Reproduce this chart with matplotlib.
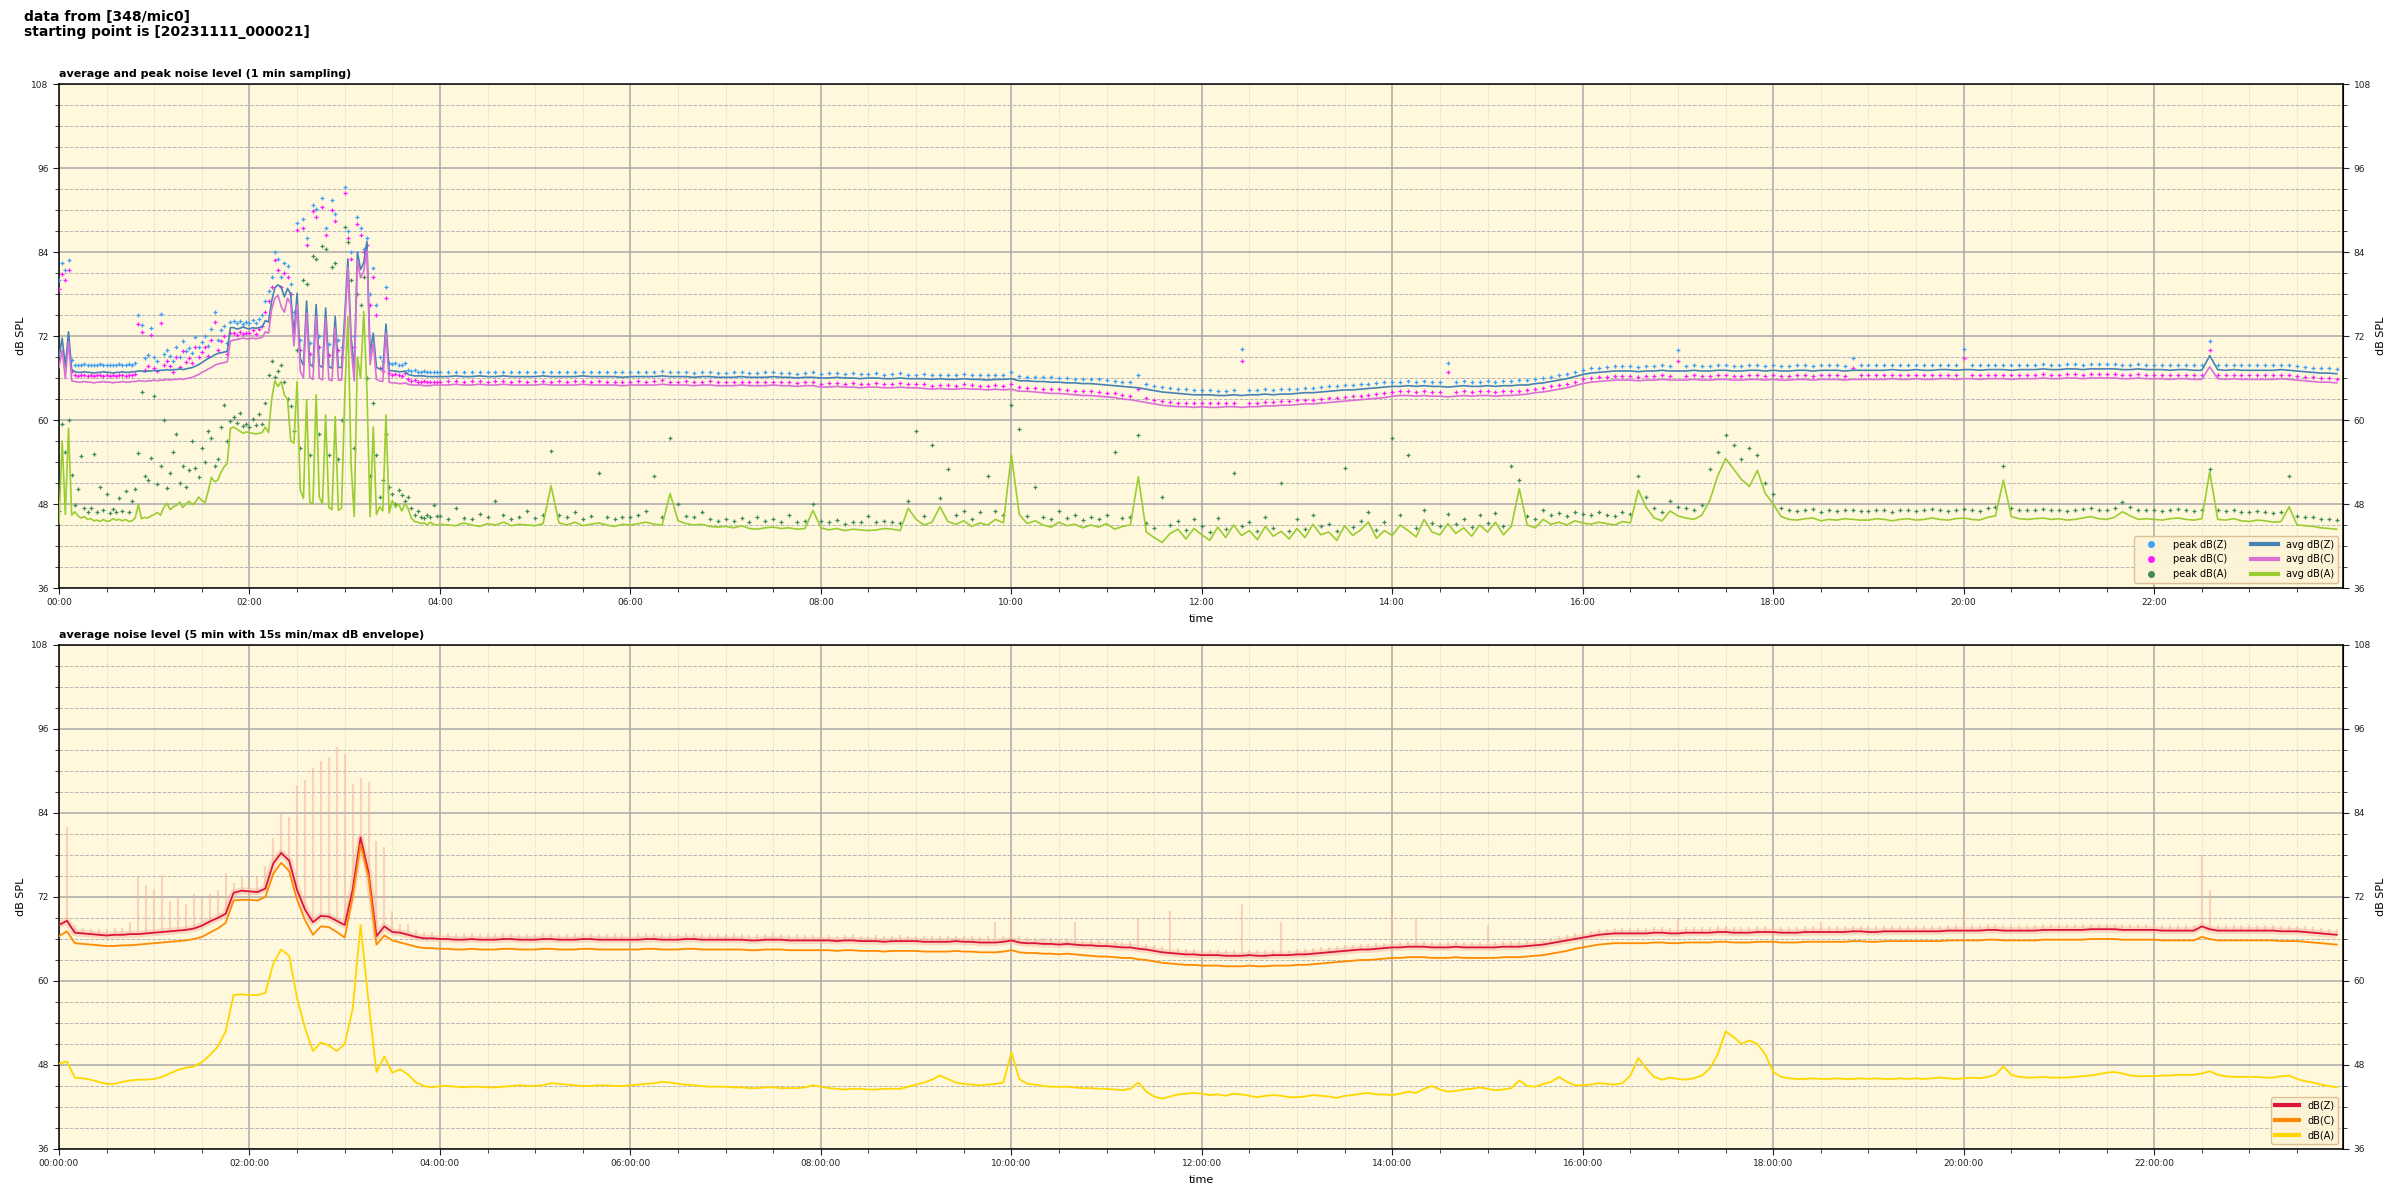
import datetime as dt
import matplotlib
matplotlib.use("Agg")
import matplotlib.pyplot as plt
import matplotlib.dates as mdates
from matplotlib.ticker import MultipleLocator
from matplotlib.lines import Line2D

# ---------------- data ----------------
START = dt.datetime(2023, 11, 11, 0, 0, 0)
END = dt.datetime(2023, 11, 11, 23, 59, 0)

# sample times (minutes after start): top panel 2-min for first 4 h, then 5-min
top_minutes = list(range(0, 240, 2)) + list(range(240, 1440, 5))
bottom_minutes = list(range(0, 1440, 5))

top_avg_z = [
    69.0, 71.7, 67.6, 72.6, 67.2, 66.9, 66.8, 66.8, 66.9, 66.8,
    66.8, 66.7, 66.8, 66.8, 66.9, 66.8, 66.8, 66.7, 66.8, 66.8,
    66.9, 66.8, 66.8, 66.9, 66.9, 67.0, 67.0, 66.9, 67.0, 67.0,
    67.1, 67.0, 67.1, 67.1, 67.2, 67.1, 67.2, 67.2, 67.3, 67.2,
    67.3, 67.4, 67.5, 67.7, 67.9, 68.2, 68.5, 68.8, 69.0, 69.3,
    69.5, 69.6, 69.7, 69.8, 73.2, 73.2, 73.0, 73.1, 73.3, 73.1,
    73.0, 73.2, 73.1, 73.2, 73.3, 74.2, 74.0, 77.0, 78.9, 79.3,
    79.0, 77.6, 78.8, 78.0, 72.0, 78.1, 68.8, 67.8, 77.0, 68.0,
    67.6, 76.5, 67.8, 67.5, 76.0, 67.6, 67.4, 74.8, 67.5, 67.5,
    74.8, 83.0, 72.0, 67.2, 84.0, 81.5, 82.5, 85.5, 69.5, 72.4,
    67.5, 67.3, 67.2, 73.7, 67.1, 67.0, 67.0, 66.9, 66.9, 67.0,
    66.5, 66.4, 66.3, 66.3, 66.3, 66.3, 66.2, 66.2, 66.2, 66.2,
    66.2, 66.2, 66.3, 66.2, 66.2, 66.3, 66.2, 66.2, 66.3, 66.2, 66.2, 66.2,
    66.2, 66.3, 66.2, 66.2, 66.2, 66.2, 66.3, 66.2, 66.2, 66.2, 66.2, 66.1,
    66.2, 66.2, 66.2, 66.2, 66.3, 66.2, 66.2, 66.2, 66.1, 66.2, 66.2, 66.1,
    66.1, 66.1, 66.2, 66.1, 66.1, 66.1, 66.2, 66.1, 66.1, 66.0, 66.1, 66.1,
    66.0, 66.0, 66.1, 66.0, 66.0, 65.9, 66.0, 66.0, 65.9, 65.9, 66.0, 65.9,
    65.9, 65.9, 65.8, 65.9, 65.8, 65.8, 65.9, 65.8, 65.8, 65.7, 65.8, 65.8,
    65.9, 65.6, 65.6, 65.5, 65.5, 65.4, 65.4, 65.3, 65.3, 65.2, 65.2, 65.1,
    65.0, 64.9, 64.8, 64.7, 64.6, 64.4, 64.2, 64.0, 63.9, 63.8, 63.7, 63.6,
    63.6, 63.6, 63.5, 63.5, 63.6, 63.5, 63.6, 63.6, 63.7, 63.6, 63.7, 63.7,
    63.8, 63.9, 63.9, 64.0, 64.1, 64.2, 64.3, 64.3, 64.4, 64.5, 64.6, 64.7,
    64.8, 64.8, 64.9, 64.8, 64.9, 64.8, 64.8, 64.7, 64.8, 64.9, 64.8, 64.8,
    64.9, 64.8, 64.9, 64.9, 65.0, 65.0, 65.2, 65.3, 65.5, 65.7, 65.9, 66.2,
    66.5, 66.7, 66.8, 66.9, 67.0, 67.0, 67.0, 66.9, 67.0, 67.0, 67.1, 67.0,
    67.0, 67.0, 67.1, 67.0, 67.0, 67.1, 67.1, 67.0, 67.0, 67.1, 67.1, 67.0,
    67.1, 67.0, 67.0, 67.1, 67.1, 67.0, 67.1, 67.1, 67.1, 67.0, 67.1, 67.1,
    67.1, 67.1, 67.1, 67.2, 67.1, 67.1, 67.2, 67.1, 67.1, 67.2, 67.2, 67.1,
    67.2, 67.2, 67.1, 67.2, 67.2, 67.2, 67.1, 67.2, 67.2, 67.2, 67.3, 67.2,
    67.2, 67.3, 67.3, 67.2, 67.3, 67.3, 67.3, 67.3, 67.2, 67.2, 67.3, 67.2,
    67.2, 67.2, 67.1, 67.2, 67.2, 67.1, 67.1, 69.2, 67.2, 67.1, 67.2, 67.1,
    67.1, 67.1, 67.1, 67.1, 67.2, 67.1, 67.0, 66.9, 66.8, 66.7, 66.7, 66.6,
]

top_avg_c = [
    67.5, 70.0, 65.9, 71.2, 65.6, 65.5, 65.4, 65.4, 65.5, 65.4,
    65.4, 65.3, 65.4, 65.4, 65.5, 65.4, 65.4, 65.3, 65.4, 65.4,
    65.5, 65.4, 65.4, 65.5, 65.5, 65.6, 65.6, 65.5, 65.6, 65.6,
    65.7, 65.6, 65.7, 65.7, 65.8, 65.7, 65.8, 65.8, 65.9, 65.8,
    65.9, 66.0, 66.1, 66.3, 66.5, 66.8, 67.0, 67.3, 67.5, 67.8,
    68.0, 68.1, 68.2, 68.3, 71.3, 71.4, 71.5, 71.6, 71.7, 71.6,
    71.6, 71.7, 71.6, 71.7, 71.8, 72.6, 72.4, 75.8, 77.4, 77.8,
    76.2, 75.4, 77.4, 76.6, 70.6, 76.4, 67.0, 66.0, 75.3, 66.1,
    65.8, 74.8, 66.0, 65.7, 74.5, 65.8, 65.6, 73.2, 65.7, 65.7,
    73.2, 81.8, 70.5, 65.6, 82.8, 80.3, 81.3, 84.3, 67.9, 71.0,
    65.8, 65.6, 65.5, 72.4, 65.4, 65.3, 65.3, 65.2, 65.2, 65.3,
    65.1, 65.0, 65.0, 65.0, 65.0, 64.9, 64.9, 64.9, 65.0, 65.0,
    65.0, 65.0, 65.1, 65.0, 65.0, 65.1, 65.0, 65.0, 65.1, 65.0, 65.0, 65.0,
    65.0, 65.1, 65.0, 65.0, 65.0, 65.0, 65.1, 65.0, 65.0, 65.0, 65.0, 64.9,
    65.0, 65.0, 65.0, 65.0, 65.1, 65.0, 65.0, 65.0, 64.9, 65.0, 65.0, 64.9,
    64.9, 64.9, 65.0, 64.9, 64.9, 64.9, 65.0, 64.9, 64.9, 64.8, 64.9, 64.9,
    64.7, 64.7, 64.8, 64.7, 64.7, 64.6, 64.7, 64.7, 64.6, 64.6, 64.7, 64.6,
    64.6, 64.5, 64.4, 64.5, 64.4, 64.4, 64.5, 64.4, 64.4, 64.3, 64.4, 64.3,
    64.4, 64.1, 64.1, 64.0, 63.9, 63.8, 63.8, 63.7, 63.6, 63.5, 63.5, 63.4,
    63.3, 63.2, 63.0, 62.9, 62.7, 62.5, 62.3, 62.1, 62.0, 61.9, 61.9, 61.8,
    61.9, 61.8, 61.8, 61.9, 61.9, 61.8, 61.9, 61.9, 62.0, 62.0, 62.1, 62.1,
    62.2, 62.3, 62.3, 62.4, 62.5, 62.6, 62.7, 62.8, 62.9, 63.0, 63.1, 63.2,
    63.4, 63.5, 63.5, 63.4, 63.5, 63.4, 63.4, 63.3, 63.4, 63.5, 63.4, 63.5,
    63.5, 63.4, 63.5, 63.5, 63.6, 63.7, 63.9, 64.0, 64.2, 64.4, 64.6, 64.9,
    65.2, 65.4, 65.5, 65.6, 65.7, 65.7, 65.7, 65.6, 65.7, 65.7, 65.8, 65.7,
    65.7, 65.7, 65.8, 65.7, 65.7, 65.8, 65.8, 65.7, 65.7, 65.8, 65.8, 65.7,
    65.8, 65.7, 65.7, 65.8, 65.8, 65.7, 65.8, 65.8, 65.8, 65.7, 65.8, 65.8,
    65.8, 65.8, 65.8, 65.9, 65.8, 65.8, 65.9, 65.8, 65.8, 65.9, 65.9, 65.8,
    65.9, 65.9, 65.8, 65.9, 65.9, 65.9, 65.8, 65.9, 65.9, 65.9, 66.0, 65.9,
    65.9, 66.0, 66.0, 65.9, 66.0, 66.0, 66.0, 66.0, 65.9, 65.9, 66.0, 65.9,
    65.9, 65.9, 65.8, 65.9, 65.9, 65.8, 65.8, 67.6, 65.9, 65.8, 65.9, 65.8,
    65.8, 65.8, 65.8, 65.8, 65.9, 65.8, 65.7, 65.6, 65.5, 65.4, 65.4, 65.3,
]

top_avg_a = [
    45.2, 57.0, 46.5, 58.8, 46.4, 46.9, 46.3, 46.0, 46.2, 45.8,
    45.9, 45.6, 45.7, 45.5, 45.8, 45.5, 45.6, 45.9, 45.7, 45.8,
    45.6, 45.8, 45.5, 45.6, 46.0, 47.9, 45.9, 46.1, 46.0, 46.3,
    46.5, 46.8, 46.4, 47.5, 48.1, 47.2, 47.6, 47.8, 48.3, 47.5,
    48.0, 48.4, 47.9, 48.3, 49.0, 48.5, 48.2, 49.8, 51.8, 51.2,
    51.4, 52.5, 53.3, 53.8, 58.8, 59.0, 58.7, 58.4, 58.1, 58.3,
    58.2, 58.1, 58.0, 58.1, 58.2, 59.0, 58.2, 63.0, 65.6, 64.8,
    65.5, 63.6, 62.9, 57.0, 56.7, 65.5, 50.0, 48.8, 62.9, 48.3,
    48.0, 63.6, 49.0, 48.0, 60.7, 47.5, 47.2, 60.5, 47.1, 47.4,
    63.3, 74.8, 53.8, 46.2, 69.0, 66.0, 75.5, 64.3, 46.2, 59.0,
    46.5, 47.6, 47.0, 60.7, 46.7, 48.5, 47.5, 48.0, 47.0, 48.1,
    47.3, 46.0, 45.5, 45.4, 45.2, 45.3, 45.0, 45.4, 45.1, 45.0,
    45.1, 45.0, 44.9, 45.3, 45.0, 44.8, 45.2, 45.0, 45.4, 44.9, 45.1, 45.0,
    44.9, 45.2, 50.6, 45.3, 45.0, 45.4, 44.9, 45.1, 45.3, 45.0, 44.8, 45.1,
    45.0, 45.2, 45.4, 45.1, 45.0, 49.5, 45.6, 45.2, 45.0, 45.1, 44.8, 44.7,
    44.8, 44.6, 44.9, 44.5, 44.4, 44.6, 44.7, 44.5, 44.6, 44.4, 44.5, 47.1,
    44.6, 44.3, 44.5, 44.2, 44.4, 44.3, 44.2, 44.3, 44.5, 44.4, 44.2, 47.4,
    45.8, 45.0, 45.4, 47.6, 45.5, 45.1, 45.6, 44.8, 45.3, 45.0, 45.8, 45.3,
    55.0, 46.5, 45.2, 45.6, 45.0, 44.7, 45.4, 44.9, 45.1, 44.6, 45.0, 44.7,
    45.2, 44.4, 44.8, 45.0, 51.9, 44.0, 43.2, 42.5, 43.8, 44.4, 43.0, 44.5,
    43.6, 42.8, 44.7, 43.2, 45.0, 43.5, 44.2, 42.9, 44.8, 43.4, 44.1, 43.0,
    44.5, 43.2, 45.1, 43.6, 44.0, 42.8, 44.9, 43.5, 44.3, 45.4, 43.1, 44.2,
    43.5, 45.0, 44.2, 43.3, 45.8, 44.0, 43.6, 45.2, 43.8, 44.6, 43.4, 45.0,
    44.0, 45.4, 43.6, 44.8, 50.2, 45.0, 44.6, 45.8, 45.1, 45.4, 45.0, 45.6,
    45.3, 45.1, 45.4, 45.2, 45.0, 45.5, 45.3, 50.0, 47.5, 46.0, 45.6, 47.0,
    46.3, 46.0, 45.8, 46.4, 48.5, 52.0, 54.5, 53.0, 51.5, 50.5, 52.8, 49.5,
    48.0, 46.2, 45.8, 45.7, 45.9, 46.0, 45.6, 45.8, 45.7, 45.9, 45.8, 45.7,
    45.7, 45.9, 45.8, 45.6, 45.8, 45.9, 45.7, 45.8, 46.0, 45.8, 45.7, 45.9,
    46.0, 45.8, 45.7, 46.1, 46.3, 51.4, 46.2, 45.9, 45.8, 45.9, 46.0, 45.8,
    45.9, 45.7, 45.8, 46.0, 46.2, 45.9, 45.8, 46.1, 46.9, 46.3, 45.8, 45.9,
    45.8, 45.7, 45.9, 46.0, 45.8, 45.7, 45.9, 52.6, 45.8, 45.7, 45.9, 45.6,
    45.5, 45.7, 45.6, 45.4, 45.5, 47.6, 45.0, 44.9, 44.8, 44.6, 44.5, 44.4,
]

top_peak_z = [
    80.0, 82.4, 81.5, 82.8, 68.6, 67.9, 67.8, 67.9, 68.0, 67.8,
    67.9, 67.8, 67.9, 68.0, 67.8, 67.9, 67.8, 67.9, 67.8, 68.0,
    67.9, 67.8, 68.0, 67.9, 68.1, 75.0, 73.6, 68.8, 69.3, 73.1,
    69.0, 68.5, 75.2, 69.4, 70.0, 69.2, 68.4, 70.5, 69.0, 71.3,
    69.8, 70.3, 69.6, 71.9, 70.5, 71.2, 72.0, 70.6, 73.0, 75.5,
    71.5, 72.8, 73.5, 71.0, 74.0, 74.2, 73.8, 74.1, 73.7, 74.0,
    73.9, 74.3, 73.8, 74.5, 75.0, 77.0, 78.5, 80.5, 84.0, 83.0,
    80.5, 82.5, 82.0, 79.5, 75.5, 88.1, 71.5, 88.7, 86.0, 71.0,
    90.7, 90.2, 72.0, 91.7, 87.5, 70.8, 91.5, 89.5, 71.5, 70.5,
    93.3, 87.0, 84.0, 72.0, 89.0, 87.5, 84.5, 86.0, 78.0, 81.7,
    76.5, 69.0, 68.5, 79.0, 68.2, 68.0, 68.1, 67.9, 67.8, 68.2,
    67.2, 67.0, 67.1, 66.9, 66.9, 67.0, 66.8, 66.9, 66.8, 66.8,
    66.8, 66.9, 66.9, 66.8, 66.9, 66.9, 66.8, 66.9, 66.9, 66.8, 66.9, 66.8,
    66.9, 66.9, 66.8, 66.9, 66.8, 66.9, 66.9, 66.8, 66.9, 66.8, 66.8, 66.8,
    66.8, 66.9, 66.8, 66.9, 67.0, 66.8, 66.8, 66.9, 66.7, 66.8, 66.9, 66.7,
    66.7, 66.8, 66.8, 66.7, 66.7, 66.8, 66.8, 66.7, 66.7, 66.6, 66.7, 66.8,
    66.6, 66.7, 66.7, 66.6, 66.7, 66.6, 66.6, 66.7, 66.5, 66.6, 66.7, 66.5,
    66.5, 66.6, 66.4, 66.5, 66.5, 66.4, 66.6, 66.5, 66.4, 66.4, 66.5, 66.4,
    66.8, 66.3, 66.2, 66.2, 66.1, 66.1, 66.0, 66.0, 65.9, 65.9, 65.8, 65.8,
    65.7, 65.6, 65.5, 65.4, 66.5, 65.1, 64.9, 64.7, 64.6, 64.5, 64.4, 64.3,
    64.3, 64.3, 64.2, 64.2, 64.3, 70.1, 64.3, 64.3, 64.4, 64.3, 64.4, 64.4,
    64.5, 64.6, 64.6, 64.7, 64.8, 64.9, 65.0, 65.0, 65.1, 65.2, 65.3, 65.4,
    65.5, 65.5, 65.6, 65.5, 65.6, 65.5, 65.5, 68.2, 65.5, 65.6, 65.5, 65.5,
    65.6, 65.5, 65.6, 65.6, 65.7, 65.7, 65.9, 66.0, 66.2, 66.4, 66.6, 66.9,
    67.2, 67.4, 67.5, 67.6, 67.7, 67.7, 67.7, 67.6, 67.7, 67.7, 67.8, 67.7,
    70.0, 67.7, 67.8, 67.7, 67.7, 67.8, 67.8, 67.7, 67.7, 67.8, 67.8, 67.7,
    67.8, 67.7, 67.7, 67.8, 67.8, 67.7, 67.8, 67.8, 67.8, 67.7, 68.9, 67.8,
    67.8, 67.8, 67.8, 67.9, 67.8, 67.8, 67.9, 67.8, 67.8, 67.9, 67.9, 67.8,
    70.1, 67.9, 67.8, 67.9, 67.9, 67.9, 67.8, 67.9, 67.9, 67.9, 68.0, 67.9,
    67.9, 68.0, 68.0, 67.9, 68.0, 68.0, 68.0, 68.0, 67.9, 67.9, 68.0, 67.9,
    67.9, 67.9, 67.8, 67.9, 67.9, 67.8, 67.8, 71.3, 67.9, 67.8, 67.9, 67.8,
    67.8, 67.8, 67.8, 67.8, 67.9, 67.8, 67.7, 67.6, 67.5, 67.4, 67.4, 67.3,
]

top_peak_c = [
    78.7, 80.8, 80.0, 81.5, 67.0, 66.4, 66.3, 66.4, 66.5, 66.3,
    66.4, 66.3, 66.4, 66.5, 66.3, 66.4, 66.3, 66.4, 66.3, 66.5,
    66.4, 66.3, 66.5, 66.4, 66.6, 73.7, 72.6, 67.2, 67.7, 72.1,
    67.5, 67.0, 73.9, 67.9, 68.5, 67.7, 66.9, 69.0, 67.6, 69.8,
    68.3, 68.8, 68.1, 70.4, 69.0, 69.7, 70.5, 69.1, 71.5, 74.0,
    70.0, 71.3, 72.0, 69.5, 72.4, 72.5, 72.2, 72.6, 72.3, 72.5,
    72.4, 72.8, 72.3, 73.0, 73.5, 75.5, 77.0, 79.0, 82.8, 81.5,
    79.0, 81.0, 80.5, 78.0, 74.0, 87.1, 70.0, 87.5, 85.0, 69.5,
    89.8, 89.0, 70.5, 90.5, 86.5, 69.3, 90.0, 88.5, 70.0, 69.0,
    92.5, 86.0, 83.0, 70.5, 88.0, 86.5, 84.0, 85.0, 76.5, 80.5,
    75.0, 67.5, 67.0, 77.5, 66.7, 66.5, 66.6, 66.4, 66.3, 66.7,
    65.8, 65.6, 65.7, 65.5, 65.5, 65.6, 65.4, 65.5, 65.4, 65.4,
    65.5, 65.6, 65.6, 65.5, 65.6, 65.6, 65.5, 65.6, 65.6, 65.5, 65.6, 65.5,
    65.6, 65.6, 65.5, 65.6, 65.5, 65.6, 65.6, 65.5, 65.6, 65.5, 65.5, 65.4,
    65.5, 65.6, 65.5, 65.6, 65.7, 65.5, 65.5, 65.6, 65.4, 65.5, 65.6, 65.4,
    65.4, 65.5, 65.5, 65.4, 65.4, 65.5, 65.5, 65.4, 65.4, 65.3, 65.4, 65.5,
    65.2, 65.3, 65.3, 65.2, 65.3, 65.2, 65.2, 65.3, 65.1, 65.2, 65.3, 65.1,
    65.1, 65.1, 64.9, 65.0, 65.0, 64.9, 65.1, 65.0, 64.9, 64.9, 65.0, 64.8,
    65.2, 64.7, 64.6, 64.6, 64.5, 64.4, 64.4, 64.3, 64.2, 64.1, 64.1, 64.0,
    63.9, 63.8, 63.6, 63.5, 64.5, 63.1, 62.9, 62.7, 62.6, 62.5, 62.5, 62.4,
    62.5, 62.4, 62.4, 62.5, 62.5, 68.5, 62.5, 62.5, 62.6, 62.6, 62.7, 62.7,
    62.8, 62.9, 62.9, 63.0, 63.1, 63.2, 63.3, 63.4, 63.5, 63.6, 63.7, 63.8,
    64.0, 64.1, 64.1, 64.0, 64.1, 64.0, 64.0, 66.8, 64.0, 64.1, 64.0, 64.1,
    64.1, 64.0, 64.1, 64.1, 64.2, 64.3, 64.5, 64.6, 64.8, 65.0, 65.2, 65.5,
    65.8, 66.0, 66.1, 66.2, 66.3, 66.3, 66.3, 66.2, 66.3, 66.3, 66.4, 66.3,
    68.5, 66.3, 66.4, 66.3, 66.3, 66.4, 66.4, 66.3, 66.3, 66.4, 66.4, 66.3,
    66.4, 66.3, 66.3, 66.4, 66.4, 66.3, 66.4, 66.4, 66.4, 66.3, 67.5, 66.4,
    66.4, 66.4, 66.4, 66.5, 66.4, 66.4, 66.5, 66.4, 66.4, 66.5, 66.5, 66.4,
    68.8, 66.5, 66.4, 66.5, 66.5, 66.5, 66.4, 66.5, 66.5, 66.5, 66.6, 66.5,
    66.5, 66.6, 66.6, 66.5, 66.6, 66.6, 66.6, 66.6, 66.5, 66.5, 66.6, 66.5,
    66.5, 66.5, 66.4, 66.5, 66.5, 66.4, 66.4, 70.0, 66.5, 66.4, 66.5, 66.4,
    66.4, 66.4, 66.4, 66.4, 66.5, 66.4, 66.3, 66.2, 66.1, 66.0, 66.0, 65.9,
]

top_peak_a = [
    47.0, 59.5, 55.5, 60.0, 52.1, 47.8, 50.1, 54.9, 47.5, 46.8,
    47.4, 55.1, 46.9, 50.5, 47.2, 49.4, 46.7, 47.3, 46.8, 48.9,
    47.0, 49.9, 46.8, 48.5, 50.2, 55.3, 64.0, 52.0, 51.5, 54.6,
    63.5, 50.9, 53.5, 60.0, 50.3, 52.5, 55.5, 58.0, 51.0, 53.5,
    50.5, 52.8, 57.0, 53.2, 51.8, 56.0, 54.0, 58.5, 57.5, 53.5,
    54.5, 59.0, 62.2, 57.0, 59.8, 60.4, 59.6, 61.0, 59.2, 59.4,
    59.0, 60.2, 59.3, 60.8, 59.5, 62.5, 66.5, 68.5, 66.2, 67.0,
    67.8, 65.5, 63.0, 62.0, 58.5, 70.0, 56.0, 80.0, 79.5, 55.0,
    83.5, 83.0, 58.0, 84.8, 84.5, 55.0, 81.9, 82.5, 54.5, 60.0,
    87.6, 85.5, 80.0, 56.0, 78.0, 76.5, 80.5, 66.0, 52.0, 62.5,
    55.0, 49.0, 51.5, 58.0, 50.5, 49.5, 48.0, 50.0, 49.3, 48.5,
    49.0, 47.5, 46.5, 47.0, 46.2, 46.0, 46.4, 46.1, 47.8, 46.3,
    46.3, 45.8, 47.5, 46.0, 45.9, 46.6, 46.2, 48.5, 46.4, 45.8, 46.1, 47.0,
    46.0, 46.5, 55.6, 46.4, 46.2, 46.8, 45.9, 46.3, 52.5, 46.1, 45.8, 46.2,
    46.1, 46.4, 47.0, 52.0, 46.2, 57.5, 48.0, 46.3, 46.1, 46.9, 45.8, 45.6,
    45.8, 45.6, 46.0, 45.5, 46.2, 45.6, 45.8, 45.5, 46.5, 45.4, 45.6, 48.0,
    45.6, 45.4, 45.7, 45.2, 45.5, 45.4, 46.3, 45.4, 45.6, 45.5, 45.3, 48.5,
    58.4, 46.3, 56.5, 48.8, 53.0, 46.4, 47.0, 45.9, 46.8, 52.0, 47.0, 46.4,
    62.2, 58.7, 46.3, 50.5, 46.2, 45.8, 47.0, 46.0, 46.4, 45.7, 46.2, 45.8,
    46.4, 55.5, 46.0, 46.2, 57.8, 45.3, 44.6, 49.0, 45.0, 45.6, 44.3, 45.8,
    44.8, 44.0, 46.0, 44.5, 52.5, 44.8, 45.5, 44.1, 46.2, 44.6, 51.0, 44.2,
    45.8, 44.4, 46.4, 44.9, 45.2, 44.1, 53.2, 44.7, 45.6, 46.8, 44.3, 45.4,
    57.5, 46.4, 55.0, 44.6, 47.2, 45.3, 44.9, 46.6, 45.1, 45.9, 44.7, 46.4,
    45.3, 46.7, 44.9, 53.5, 51.5, 46.3, 45.9, 47.1, 46.4, 46.7, 46.3, 46.9,
    46.6, 46.4, 46.8, 46.5, 46.3, 46.9, 46.6, 52.0, 49.0, 47.4, 46.9, 48.4,
    47.6, 47.4, 47.2, 47.8, 53.0, 55.5, 57.9, 56.5, 54.5, 56.0, 55.0, 51.0,
    49.4, 47.5, 47.1, 47.0, 47.2, 47.3, 46.9, 47.1, 47.0, 47.2, 47.1, 47.0,
    47.0, 47.2, 47.1, 46.9, 47.1, 47.2, 47.0, 47.1, 47.3, 47.1, 47.0, 47.2,
    47.3, 47.1, 47.0, 47.4, 47.6, 53.5, 47.5, 47.2, 47.1, 47.2, 47.3, 47.1,
    47.2, 47.0, 47.1, 47.3, 47.5, 47.2, 47.1, 47.4, 48.3, 47.6, 47.1, 47.2,
    47.1, 47.0, 47.2, 47.3, 47.1, 47.0, 47.2, 53.0, 47.1, 47.0, 47.2, 46.9,
    46.8, 47.0, 46.9, 46.7, 46.8, 52.0, 46.3, 46.2, 46.1, 45.9, 45.8, 45.7,
]

# bottom panel: 5-min averages and 15 s max envelope
bottom_z = [
    68.0, 68.6, 66.9, 66.8, 66.7, 66.6, 66.5, 66.6, 66.6, 66.7, 66.7, 66.8,
    66.9, 67.0, 67.1, 67.2, 67.3, 67.5, 67.9, 68.5, 69.0, 69.6, 72.6, 72.9,
    72.8, 72.7, 73.2, 76.8, 78.3, 77.2, 73.0, 70.2, 68.4, 69.3, 69.2, 68.6,
    68.0, 73.0, 80.5, 75.5, 66.4, 67.8, 67.0, 66.9, 66.6, 66.3, 66.1, 66.1,
    66.0, 66.0, 65.9, 65.9, 66.0, 65.9, 65.9, 65.9, 66.0, 66.0, 65.9, 65.9,
    65.9, 66.0, 66.0, 65.9, 65.9, 65.9, 66.0, 66.0, 65.9, 65.9, 65.9, 65.9,
    65.9, 65.9, 66.0, 66.0, 65.9, 65.9, 65.9, 66.0, 66.0, 65.9, 65.9, 65.9,
    65.9, 65.9, 65.9, 65.8, 65.8, 65.9, 65.9, 65.9, 65.8, 65.8, 65.8, 65.8,
    65.8, 65.8, 65.7, 65.8, 65.8, 65.7, 65.7, 65.7, 65.6, 65.7, 65.7, 65.7,
    65.7, 65.6, 65.6, 65.6, 65.6, 65.7, 65.6, 65.6, 65.5, 65.5, 65.5, 65.6,
    65.8, 65.5, 65.4, 65.4, 65.3, 65.3, 65.2, 65.3, 65.2, 65.1, 65.1, 65.0,
    65.0, 64.9, 64.8, 64.8, 64.6, 64.5, 64.3, 64.1, 64.0, 63.9, 63.8, 63.8,
    63.7, 63.7, 63.7, 63.6, 63.6, 63.6, 63.7, 63.6, 63.6, 63.7, 63.7, 63.7,
    63.8, 63.8, 63.9, 64.0, 64.1, 64.2, 64.3, 64.4, 64.5, 64.5, 64.6, 64.7,
    64.8, 64.8, 64.9, 64.9, 64.9, 64.8, 64.8, 64.8, 64.9, 64.8, 64.8, 64.8,
    64.8, 64.8, 64.9, 64.9, 64.9, 65.0, 65.1, 65.2, 65.4, 65.6, 65.8, 66.0,
    66.2, 66.4, 66.6, 66.7, 66.8, 66.8, 66.8, 66.8, 66.8, 66.9, 66.9, 66.8,
    66.8, 66.9, 66.9, 66.9, 66.9, 67.0, 67.0, 66.9, 66.9, 66.9, 67.0, 67.0,
    67.0, 66.9, 66.9, 66.9, 67.0, 67.0, 67.0, 67.0, 67.0, 67.0, 67.1, 67.1,
    67.0, 67.0, 67.1, 67.1, 67.1, 67.1, 67.1, 67.1, 67.1, 67.1, 67.2, 67.2,
    67.2, 67.2, 67.2, 67.3, 67.3, 67.2, 67.2, 67.2, 67.2, 67.2, 67.3, 67.3,
    67.3, 67.3, 67.3, 67.3, 67.4, 67.4, 67.4, 67.4, 67.3, 67.3, 67.3, 67.3,
    67.3, 67.2, 67.2, 67.2, 67.2, 67.2, 67.8, 67.4, 67.2, 67.2, 67.2, 67.2,
    67.2, 67.2, 67.2, 67.2, 67.1, 67.1, 67.1, 67.0, 66.9, 66.8, 66.7, 66.6,
]

bottom_c = [
    66.4, 67.1, 65.4, 65.3, 65.2, 65.1, 65.0, 65.0, 65.1, 65.1, 65.2, 65.3,
    65.4, 65.5, 65.6, 65.7, 65.8, 66.0, 66.3, 66.9, 67.5, 68.3, 71.5, 71.6,
    71.6, 71.5, 72.0, 75.3, 76.9, 75.7, 71.6, 68.7, 66.6, 67.8, 67.7, 67.0,
    66.2, 72.0, 79.5, 74.8, 65.2, 66.5, 65.8, 65.5, 65.2, 64.9, 64.7, 64.7,
    64.6, 64.6, 64.5, 64.5, 64.6, 64.5, 64.5, 64.5, 64.6, 64.6, 64.5, 64.5,
    64.5, 64.6, 64.6, 64.5, 64.5, 64.5, 64.6, 64.6, 64.5, 64.5, 64.5, 64.5,
    64.5, 64.5, 64.6, 64.6, 64.5, 64.5, 64.5, 64.6, 64.6, 64.5, 64.5, 64.5,
    64.5, 64.5, 64.5, 64.4, 64.4, 64.5, 64.5, 64.5, 64.4, 64.4, 64.4, 64.4,
    64.4, 64.4, 64.3, 64.4, 64.4, 64.3, 64.3, 64.3, 64.2, 64.3, 64.3, 64.3,
    64.3, 64.2, 64.2, 64.2, 64.2, 64.3, 64.2, 64.2, 64.1, 64.1, 64.1, 64.2,
    64.4, 64.1, 64.0, 64.0, 63.9, 63.9, 63.8, 63.9, 63.8, 63.7, 63.6, 63.5,
    63.5, 63.4, 63.3, 63.3, 63.1, 63.0, 62.8, 62.6, 62.5, 62.4, 62.3, 62.3,
    62.2, 62.2, 62.2, 62.1, 62.1, 62.1, 62.2, 62.1, 62.1, 62.2, 62.2, 62.2,
    62.3, 62.3, 62.4, 62.5, 62.6, 62.7, 62.8, 62.9, 63.0, 63.0, 63.1, 63.2,
    63.3, 63.3, 63.4, 63.4, 63.4, 63.3, 63.3, 63.3, 63.4, 63.3, 63.3, 63.3,
    63.3, 63.3, 63.4, 63.4, 63.4, 63.5, 63.6, 63.7, 63.9, 64.1, 64.3, 64.6,
    64.8, 65.0, 65.2, 65.3, 65.4, 65.4, 65.4, 65.4, 65.4, 65.5, 65.5, 65.4,
    65.4, 65.5, 65.5, 65.5, 65.5, 65.6, 65.6, 65.5, 65.5, 65.5, 65.6, 65.6,
    65.6, 65.5, 65.5, 65.5, 65.6, 65.6, 65.6, 65.6, 65.6, 65.6, 65.7, 65.7,
    65.6, 65.6, 65.7, 65.7, 65.7, 65.7, 65.7, 65.7, 65.7, 65.7, 65.8, 65.8,
    65.8, 65.8, 65.8, 65.9, 65.9, 65.8, 65.8, 65.8, 65.8, 65.8, 65.9, 65.9,
    65.9, 65.9, 65.9, 65.9, 66.0, 66.0, 66.0, 66.0, 65.9, 65.9, 65.9, 65.9,
    65.9, 65.8, 65.8, 65.8, 65.8, 65.8, 66.3, 66.0, 65.8, 65.8, 65.8, 65.8,
    65.8, 65.8, 65.8, 65.8, 65.7, 65.7, 65.7, 65.6, 65.5, 65.4, 65.3, 65.2,
]

bottom_a = [
    48.2, 48.5, 46.2, 46.1, 45.9, 45.6, 45.3, 45.3, 45.6, 45.8, 45.9, 45.9,
    46.0, 46.3, 46.8, 47.3, 47.6, 47.8, 48.4, 49.4, 50.6, 52.8, 58.0, 58.1,
    58.0, 58.0, 58.3, 62.5, 64.5, 63.6, 57.5, 53.3, 50.0, 51.2, 50.8, 50.0,
    51.0, 56.0, 68.0, 57.0, 47.0, 49.2, 46.9, 47.4, 46.6, 45.5, 45.0, 44.8,
    45.0, 45.0, 44.9, 44.8, 44.9, 44.9, 44.8, 44.8, 44.9, 45.0, 45.1, 45.0,
    45.0, 45.1, 45.4, 45.3, 45.2, 45.1, 45.0, 45.0, 45.1, 45.1, 45.0, 45.0,
    45.1, 45.2, 45.3, 45.4, 45.6, 45.5, 45.3, 45.2, 45.1, 45.0, 44.9, 44.9,
    44.9, 44.8, 44.8, 44.7, 44.7, 44.8, 44.8, 44.7, 44.7, 44.7, 44.8, 45.1,
    44.9, 44.7, 44.6, 44.5, 44.6, 44.6, 44.5, 44.5, 44.6, 44.6, 44.6, 44.9,
    45.2, 45.5, 45.9, 46.5, 46.0, 45.5, 45.3, 45.2, 45.1, 45.2, 45.3, 45.5,
    49.8, 46.0, 45.3, 45.2, 45.0, 44.9, 44.9, 44.9, 44.8, 44.7, 44.7, 44.6,
    44.6, 44.5, 44.4, 44.6, 45.5, 44.2, 43.5, 43.2, 43.5, 43.8, 43.9, 44.0,
    43.9, 43.7, 43.8, 43.6, 43.9, 43.8, 43.6, 43.4, 43.6, 43.7, 43.6, 43.4,
    43.4, 43.5, 43.7, 43.6, 43.5, 43.3, 43.6, 43.7, 43.9, 44.0, 43.8, 43.8,
    43.7, 43.9, 44.2, 44.0, 44.6, 45.0, 44.5, 44.2, 44.3, 44.5, 44.6, 44.8,
    44.6, 44.4, 44.5, 44.7, 45.8, 45.0, 44.9, 45.3, 45.6, 46.3, 45.6, 45.1,
    45.1, 45.2, 45.4, 45.3, 45.2, 45.4, 46.5, 49.0, 47.5, 46.3, 45.9, 46.2,
    46.0, 45.9, 46.1, 46.5, 47.5, 49.5, 52.8, 52.0, 51.0, 51.5, 51.0, 49.5,
    47.0, 46.3, 46.1, 46.0, 46.0, 46.1, 46.0, 46.0, 46.1, 46.0, 46.0, 46.1,
    46.0, 46.1, 46.0, 46.0, 46.1, 46.0, 46.1, 46.0, 46.1, 46.2, 46.1, 46.0,
    46.1, 46.2, 46.1, 46.3, 46.6, 47.8, 46.6, 46.3, 46.2, 46.2, 46.3, 46.2,
    46.2, 46.2, 46.3, 46.4, 46.5, 46.7, 46.9, 47.0, 46.8, 46.5, 46.4, 46.4,
    46.4, 46.5, 46.5, 46.6, 46.6, 46.6, 46.8, 47.1, 46.6, 46.4, 46.3, 46.3,
    46.3, 46.3, 46.2, 46.2, 46.4, 46.5, 46.0, 45.7, 45.5, 45.2, 45.0, 44.8,
]

bottom_env_max = [
    81.3, 82.0, 68.0, 67.6, 67.5, 67.4, 67.4, 67.6, 67.6, 68.5, 74.9, 73.7,
    73.2, 75.1, 71.5, 72.0, 71.0, 72.5, 71.8, 72.5, 73.0, 75.4, 74.0, 74.9,
    74.0, 74.9, 76.5, 80.4, 84.0, 83.5, 88.0, 88.7, 90.5, 91.5, 92.0, 93.4,
    92.5, 88.2, 89.0, 88.5, 80.0, 79.2, 70.0, 68.2, 68.2, 67.3, 67.0, 67.0,
    66.8, 66.8, 66.7, 66.8, 66.8, 66.7, 66.8, 66.7, 66.9, 66.8, 66.7, 66.7,
    66.7, 66.9, 66.8, 66.7, 66.7, 66.8, 66.8, 66.8, 66.7, 66.7, 66.8, 66.7,
    66.7, 66.8, 66.8, 66.8, 66.7, 66.8, 66.7, 66.8, 66.9, 66.7, 66.7, 66.7,
    66.7, 66.8, 66.7, 66.6, 66.7, 66.7, 66.8, 66.7, 66.6, 66.7, 66.6, 66.6,
    66.6, 66.6, 66.5, 66.6, 66.7, 66.5, 66.5, 66.6, 66.4, 66.5, 66.6, 66.5,
    66.5, 66.4, 66.5, 66.4, 66.5, 66.5, 66.4, 66.4, 66.3, 66.4, 68.5, 66.4,
    70.0, 66.4, 66.3, 66.2, 66.1, 66.2, 66.0, 66.1, 68.5, 65.9, 65.9, 65.8,
    65.8, 65.7, 65.6, 65.7, 69.0, 65.3, 65.1, 65.0, 70.0, 64.7, 64.6, 64.6,
    64.5, 64.5, 64.5, 64.4, 64.4, 71.0, 64.5, 64.4, 64.4, 64.5, 68.5, 64.5,
    64.6, 64.6, 64.7, 64.8, 64.9, 65.0, 65.1, 65.2, 65.3, 65.3, 65.4, 65.5,
    70.0, 65.6, 65.7, 69.0, 65.7, 65.6, 65.6, 65.6, 65.7, 65.6, 65.6, 65.6,
    68.0, 65.6, 65.7, 65.7, 65.7, 65.8, 65.9, 66.0, 66.2, 66.4, 66.6, 66.8,
    67.0, 67.2, 67.4, 67.5, 67.6, 67.6, 67.6, 67.6, 67.6, 67.7, 67.7, 67.6,
    69.0, 67.7, 67.7, 67.7, 67.7, 67.8, 67.8, 67.7, 67.7, 67.7, 67.8, 67.8,
    67.8, 67.7, 67.7, 67.7, 67.8, 67.8, 68.5, 67.8, 67.8, 67.8, 67.9, 67.9,
    67.8, 67.8, 67.9, 67.9, 67.9, 67.9, 67.9, 67.9, 67.9, 67.9, 68.0, 68.0,
    70.0, 68.0, 68.0, 68.1, 68.1, 68.0, 68.0, 68.0, 68.0, 68.0, 68.1, 68.1,
    68.1, 68.1, 68.1, 68.1, 68.2, 68.2, 68.2, 68.2, 68.1, 68.1, 68.1, 68.1,
    68.1, 68.0, 68.0, 68.0, 68.0, 68.0, 78.0, 73.0, 68.0, 68.0, 68.0, 68.0,
    68.0, 68.0, 68.0, 68.0, 67.9, 67.9, 67.9, 67.8, 67.7, 67.6, 67.5, 67.4,
]

for _name, _arr, _n in [("top_avg_z", top_avg_z, 360), ("top_avg_c", top_avg_c, 360),
                        ("top_avg_a", top_avg_a, 360), ("top_peak_z", top_peak_z, 360),
                        ("top_peak_c", top_peak_c, 360), ("top_peak_a", top_peak_a, 360),
                        ("bottom_z", bottom_z, 288), ("bottom_c", bottom_c, 288),
                        ("bottom_a", bottom_a, 288), ("bottom_env_max", bottom_env_max, 288)]:
    assert len(_arr) == _n, (_name, len(_arr))

top_t = [START + dt.timedelta(minutes=m) for m in top_minutes]
bot_t = [START + dt.timedelta(minutes=m) for m in bottom_minutes]

# ---------------- style ----------------
BG = "cornsilk"
TICK_FS = 6.5
LAB_FS = 8
ENV = "#f4b59c"

fig = plt.figure(figsize=(24, 12), dpi=100)
fig.patch.set_facecolor("white")

ax1 = fig.add_axes([0.02458, 0.51, 0.9517, 0.42])
ax2 = fig.add_axes([0.02458, 0.0425, 0.9517, 0.42])


def style_axes(ax, fmt, title):
    ax.set_facecolor(BG)
    ax.set_xlim(START, END)
    ax.set_ylim(36, 108)
    ax.set_axisbelow(True)
    ax.yaxis.set_major_locator(MultipleLocator(12))
    ax.yaxis.set_minor_locator(MultipleLocator(3))
    ax.xaxis.set_major_locator(mdates.HourLocator(byhour=range(0, 24, 2)))
    ax.xaxis.set_minor_locator(mdates.MinuteLocator(byminute=[0, 30]))
    ax.xaxis.set_major_formatter(mdates.DateFormatter(fmt))
    ax.xaxis.get_offset_text().set_visible(False)
    ax.yaxis.get_offset_text().set_visible(False)
    ax.grid(which="major", color="#a9a9a9", lw=1.1, ls="-")
    ax.grid(which="minor", axis="y", color="#b5b5b5", lw=0.7, ls="--")
    ax.grid(which="minor", axis="x", color="#cfcfcf", lw=0.7, ls=":")
    ax.tick_params(which="both", labelsize=TICK_FS, colors="#222222")
    ax.tick_params(which="major", length=4)
    ax.tick_params(which="minor", length=3)
    for sp in ax.spines.values():
        sp.set_linewidth(1.1)
        sp.set_color("black")
    ax.set_ylabel("dB SPL", fontsize=LAB_FS)
    ax.set_xlabel("time", fontsize=LAB_FS, labelpad=5)
    sec = ax.secondary_yaxis("right")
    sec.yaxis.set_major_locator(MultipleLocator(12))
    sec.yaxis.set_minor_locator(MultipleLocator(3))
    sec.yaxis.get_offset_text().set_visible(False)
    sec.tick_params(which="both", labelsize=TICK_FS, colors="#222222")
    sec.tick_params(which="major", length=4)
    sec.tick_params(which="minor", length=3)
    sec.set_ylabel("dB SPL", fontsize=LAB_FS)
    ax.set_title(title, loc="left", fontsize=8, fontweight="bold", pad=5)


style_axes(ax1, "%H:%M", "average and peak noise level (1 min sampling)")
style_axes(ax2, "%H:%M:%S", "average noise level (5 min with 15s min/max dB envelope)")

# ---- top panel ----
c_pz, c_pc, c_pa = "#3ea0f5", "#ff1aff", "#3c8c5a"
c_az, c_ac, c_aa = "#4682b4", "#da70d6", "#9acd32"

ax1.plot(top_t, top_peak_z, ls="", marker="+", ms=3.2, mew=0.9, color=c_pz, zorder=3)
ax1.plot(top_t, top_peak_c, ls="", marker="+", ms=3.2, mew=0.9, color=c_pc, zorder=3)
ax1.plot(top_t, top_peak_a, ls="", marker="+", ms=3.2, mew=0.9, color=c_pa, zorder=3)
ax1.plot(top_t, top_avg_z, color=c_az, lw=1.2, zorder=4)
ax1.plot(top_t, top_avg_c, color=c_ac, lw=1.2, zorder=4)
ax1.plot(top_t, top_avg_a, color=c_aa, lw=1.2, zorder=4)

h_top = [
    Line2D([], [], ls="", marker="o", ms=4, color=c_pz),
    Line2D([], [], ls="", marker="o", ms=4, color=c_pc),
    Line2D([], [], ls="", marker="o", ms=4, color=c_pa),
    Line2D([], [], color=c_az, lw=3),
    Line2D([], [], color=c_ac, lw=3),
    Line2D([], [], color=c_aa, lw=3),
]
l_top = ["peak dB(Z)", "peak dB(C)", "peak dB(A)", "avg dB(Z)", "avg dB(C)", "avg dB(A)"]
leg1 = ax1.legend(h_top, l_top, loc="lower right", ncol=2, fontsize=7,
                  facecolor="#fdf3d6", edgecolor="#d9bf94", framealpha=0.95,
                  columnspacing=2.5, handlelength=2.8, borderaxespad=0.5)
leg1.set_zorder(10)

# ---- bottom panel ----
# 15 s max envelope: thin translucent spikes above the 5-min dB(Z) average, plus a halo band
ax2.vlines(bot_t, bottom_z, bottom_env_max, color=ENV, alpha=0.55, lw=1.6, zorder=2)
ax2.plot(bot_t, bottom_z, color=ENV, lw=5, alpha=0.45, solid_capstyle="butt", zorder=2)
ax2.plot(bot_t, bottom_z, color="crimson", lw=1.3, zorder=4, label="dB(Z)")
ax2.plot(bot_t, bottom_c, color="darkorange", lw=1.3, zorder=4, label="dB(C)")
ax2.plot(bot_t, bottom_a, color="gold", lw=1.3, zorder=4, label="dB(A)")

h_bot = [Line2D([], [], color="crimson", lw=3), Line2D([], [], color="darkorange", lw=3),
         Line2D([], [], color="gold", lw=3)]
leg2 = ax2.legend(h_bot, ["dB(Z)", "dB(C)", "dB(A)"], loc="lower right", fontsize=7,
                  facecolor="#fdf3d6", edgecolor="#d9bf94", framealpha=0.95,
                  handlelength=2.5, borderaxespad=0.5)
leg2.set_zorder(10)

fig.text(0.01, 0.992, "data from [348/mic0]\nstarting point is [20231111_000021]",
         ha="left", va="top", fontsize=10, fontweight="bold", linespacing=1.15)

fig.savefig("out.png", dpi=100, facecolor="white")
